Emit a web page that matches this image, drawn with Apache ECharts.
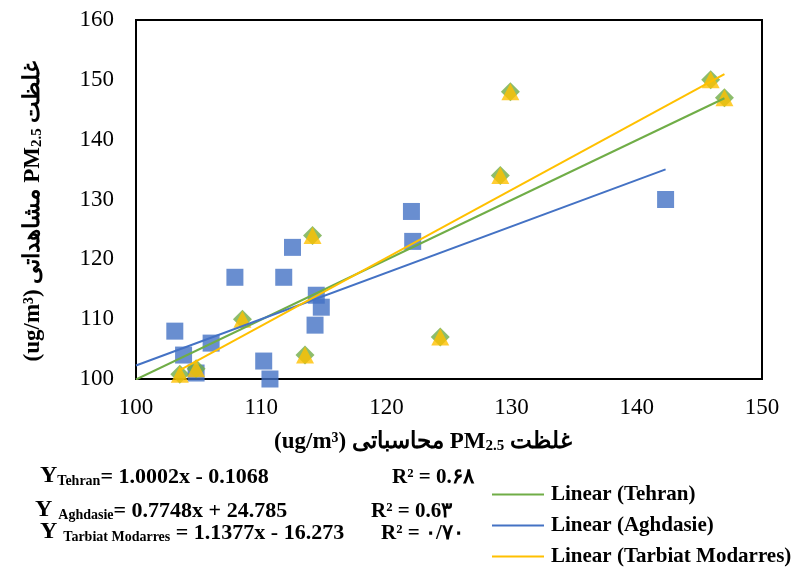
<!DOCTYPE html>
<html>
<head>
<meta charset="utf-8">
<script src="https://cdn.jsdelivr.net/npm/echarts@6/dist/echarts.min.js"></script>
<style>
  html, body { margin: 0; padding: 0; background: #fff; }
  #chart { width: 797px; height: 569px; }
</style>
</head>
<body>
<div id="chart"></div>
<script>
const aghdasieX = [103.1, 103.8, 104.8, 106.0, 107.9, 110.2, 110.7, 111.8, 112.5, 114.3, 114.4, 114.8, 122.0, 122.1, 142.3]
const aghdasieY = [108, 104, 101, 106, 117, 103, 100, 117, 122, 109, 114, 112, 128, 123, 130]
const tehranX = [103.5, 104.8, 108.5, 113.5, 114.1, 124.3, 129.1, 129.9, 145.9, 147.0]
const tehranY = [100.8, 101.7, 110, 104, 124, 107, 134, 148, 150, 147]
const tarbiatX = [103.5, 104.8, 108.5, 113.5, 114.1, 124.3, 129.1, 129.9, 145.9, 147.0]
const tarbiatY = [100.8, 101.7, 110, 104, 124, 107, 134, 148, 150, 147]

// trendlines (Tehran, Aghdasie, Tarbiat Modarres)
const fitNames = ['Linear (Tehran)', 'Linear (Aghdasie)', 'Linear (Tarbiat Modarres)']
const fitColors = ['#70AD47', '#4472C4', '#FFC000']
const fitSlope = [1.0002, 0.7748, 1.1377]
const fitIntercept = [-0.1068, 24.785, -16.273]
const fitFrom = [100, 100, 103.5]
const fitTo = [147, 142.3, 147]

const xTicks = [100, 150, 10]
const yTicks = [100, 160, 10]

function pairs(xs, ys) {
  return xs.map((x, i) => [x, ys[i]])
}

const serif = '"Liberation Serif", "Times New Roman", serif'
let myChart = echarts.init(document.getElementById('chart'))

let fitSeries = fitNames.map((name, i) => ({
  name: name,
  type: 'line',
  symbol: 'none',
  z: 6,
  lineStyle: {color: fitColors[i], width: 2},
  itemStyle: {color: fitColors[i]},
  data: [
    [fitFrom[i], fitSlope[i] * fitFrom[i] + fitIntercept[i]],
    [fitTo[i], fitSlope[i] * fitTo[i] + fitIntercept[i]]
  ]
}))

const main = {fontSize: 22, fontWeight: 'bold', fontFamily: serif, lineHeight: 24, verticalAlign: 'bottom'}
const r2 = {fontSize: 21, fontWeight: 'bold', fontFamily: serif, lineHeight: 24, verticalAlign: 'bottom'}
const big = {fontSize: 24, fontWeight: 'bold', fontFamily: serif, lineHeight: 24, verticalAlign: 'bottom'}
const sub = {fontSize: 14, fontWeight: 'bold', fontFamily: serif, lineHeight: 8, verticalAlign: 'bottom'}
const title = {fontSize: 23, fontWeight: 'bold', fontFamily: serif, lineHeight: 26, verticalAlign: 'bottom'}
const tsub = {fontSize: 15, fontWeight: 'bold', fontFamily: serif, lineHeight: 9, verticalAlign: 'bottom'}

function txt(x, y, text, rich) {
  return {
    type: 'text', x: x, y: y,
    style: {text: text, rich: rich, fill: '#000', font: 'bold 22px ' + serif, textVerticalAlign: 'middle'}
  }
}

const xTitle = '{t|(ug/m³) محاسباتی }{t|PM}{s|2.5}{t| غلظت}'
const yTitle = '{t|(ug/m³) مشاهداتی }{t|PM}{s|2.5}{t| غلظت}'

let option = {
  animation: false,
  backgroundColor: '#fff',
  grid: {left: 136, right: 35, top: 20, bottom: 190, show: true, borderColor: '#000', borderWidth: 2},
  xAxis: {
    type: 'value', min: xTicks[0], max: xTicks[1], interval: xTicks[2],
    axisLine: {show: false}, axisTick: {show: false}, splitLine: {show: false},
    axisLabel: {color: '#000', fontSize: 23, fontFamily: serif, margin: 17}
  },
  yAxis: {
    type: 'value', min: yTicks[0], max: yTicks[1], interval: yTicks[2],
    axisLine: {show: false}, axisTick: {show: false}, splitLine: {show: false},
    axisLabel: {color: '#000', fontSize: 23, fontFamily: serif, margin: 22}
  },
  legend: {
    data: fitNames.map(n => ({name: n, icon: 'rect'})),
    orient: 'vertical', left: 487, top: 479, height: 110,
    itemWidth: 52, itemHeight: 2, itemGap: 10,
    textStyle: {color: '#000', fontSize: 21, fontWeight: 'bold', fontFamily: serif, padding: [0, 0, 0, 2]}
  },
  series: [
    {
      name: 'Aghdasie', type: 'scatter', symbol: 'rect', symbolSize: 17, z: 2, clip: false,
      itemStyle: {color: '#4472C4'}, data: pairs(aghdasieX, aghdasieY)
    },
    {
      name: 'Tehran', type: 'scatter', symbol: 'diamond', symbolSize: [19, 19], z: 3, clip: false,
      itemStyle: {color: '#70AD47'}, data: pairs(tehranX, tehranY)
    },
    {
      name: 'Tarbiat Modarres', type: 'scatter', symbol: 'triangle', symbolSize: [18, 17], z: 4, clip: false,
      itemStyle: {color: '#FFC000'}, data: pairs(tarbiatX, tarbiatY)
    }
  ].concat(fitSeries),
  graphic: [
    {
      type: 'text', x: 423, y: 441,
      style: {text: xTitle, rich: {t: title, s: tsub}, fill: '#000', textAlign: 'center', textVerticalAlign: 'middle'}
    },
    {
      type: 'text', x: 32, y: 211, rotation: Math.PI / 2,
      style: {text: yTitle, rich: {t: title, s: tsub}, fill: '#000', textAlign: 'center', textVerticalAlign: 'middle'}
    },
    txt(40, 476, '{b|Y}{s|Tehran}{m|= 1.0002x - 0.1068}', {m: main, b: big, s: sub}),
    txt(35, 510, '{b|Y }{s|Aghdasie}{m|= 0.7748x + 24.785}', {m: main, b: big, s: sub}),
    txt(40, 532, '{b|Y }{s|Tarbiat Modarres}{m| = 1.1377x - 16.273}', {m: main, b: big, s: sub}),
    txt(392, 476, '{m|R² = 0.۶۸}', {m: r2}),
    txt(371, 510, '{m|R² = 0.6۳}', {m: r2}),
    txt(381, 532, '{m|R² = ۰/۷۰}', {m: r2})
  ]
}
myChart.setOption(option)
</script>
</body>
</html>
